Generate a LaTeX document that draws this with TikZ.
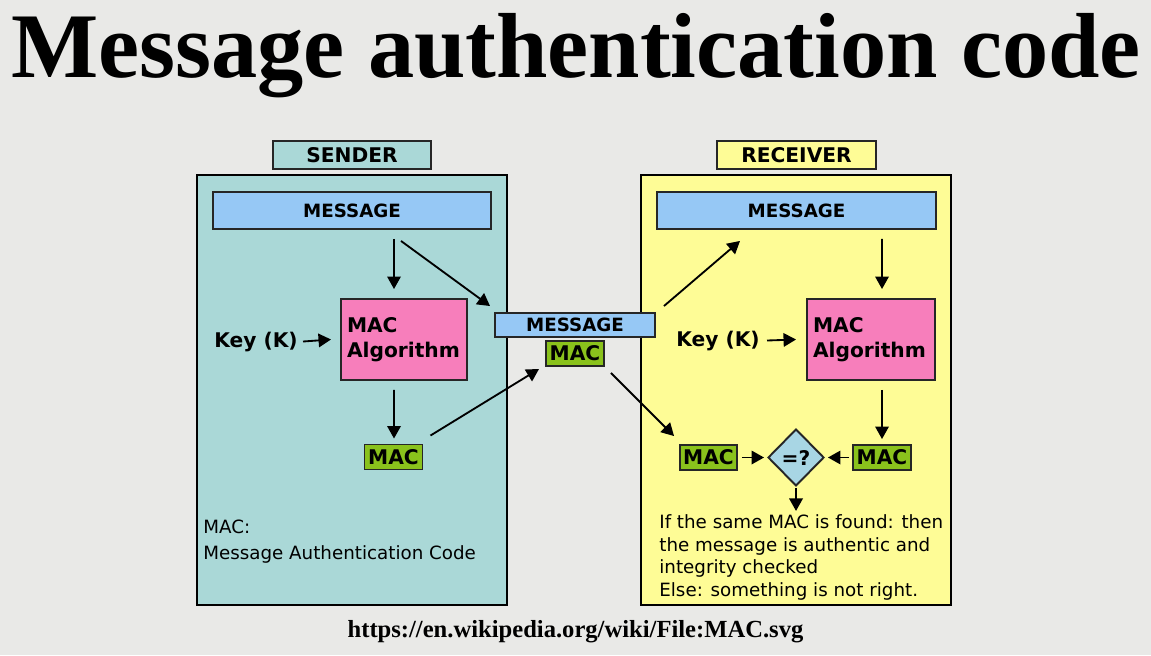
\documentclass[tikz,border=0pt]{standalone}
\usepackage{fontspec}
\setmainfont{Liberation Serif}
\newfontfamily\dejavu{DejaVu Sans}
\usetikzlibrary{arrows.meta,calc,shapes.geometric}
\definecolor{bgray}{RGB}{233,233,231}
\definecolor{sendteal}{RGB}{170,216,215}
\definecolor{recyellow}{RGB}{254,252,150}
\definecolor{msgblue}{RGB}{150,200,245}
\definecolor{algpink}{RGB}{247,126,187}
\definecolor{macgreen}{RGB}{138,194,28}
\definecolor{cmpblue}{RGB}{168,214,228}
\newcommand\pxu{0.02cm}
\tikzset{
  box/.style={draw=black!85, line width=1.1pt, inner sep=0pt,
    font=\dejavu\bfseries\fontsize{11.5}{14.5}\selectfont},
  msgbox/.style={box, fill=msgblue, font=\dejavu\bfseries\fontsize{10.4}{12}\selectfont},
  macbox/.style={box, fill=macgreen, minimum width=58*\pxu, minimum height=25*\pxu},
  algbox/.style={box, fill=algpink, minimum width=126*\pxu, minimum height=81*\pxu,
    text width=114*\pxu, inner xsep=6*\pxu, align=left},
  keytext/.style={inner sep=0pt, font=\dejavu\bfseries\fontsize{11.5}{14}\selectfont},
  arr/.style={-{Triangle[length=0.25cm,width=0.27cm]}, line width=1.05pt},
}
\begin{document}
\begin{tikzpicture}[x=0.02cm,y=-0.02cm]
\fill[bgray] (0,0) rectangle (1151,655);
\node[anchor=base, inner sep=0pt, font=\bfseries\fontsize{52.6}{60}\selectfont] (title) at (576,78) {Message authentication code};
\node[anchor=base, inner sep=0pt, font=\bfseries\fontsize{14}{16}\selectfont] (link) at (575.5,637) {https://en.wikipedia.org/wiki/File:MAC.svg};

% the two panels
\draw[fill=sendteal, line width=0.85pt] (197,175) rectangle (507,605);
\draw[fill=recyellow, line width=0.85pt] (641,175) rectangle (951,605);

% sender side
\node[box, fill=sendteal, minimum width=158*\pxu, minimum height=28*\pxu] (sender) at (352,155) {SENDER};
\node[msgbox, minimum width=278*\pxu, minimum height=37*\pxu] (smsg) at (352,210.5) {MESSAGE};
\node[algbox] (salg) at (404,339.5) {MAC\\Algorithm};
\node[keytext, anchor=base east] (skey) at (298,347) {Key (K)};
\node[macbox] (smac) at (393.5,457) {MAC};
\node[anchor=north west, inner sep=0pt, align=left, font=\dejavu\fontsize{10.4}{14.7}\selectfont] (snote) at (203,520) {MAC:\\Message Authentication Code};

% in transit
\node[msgbox, minimum width=160*\pxu, minimum height=24*\pxu] (mmsg) at (575,325) {MESSAGE};
\node[macbox] (mmac) at (575,353.5) {MAC};

% receiver side
\node[box, fill=recyellow, minimum width=159*\pxu, minimum height=28*\pxu] (receiver) at (796.5,155) {RECEIVER};
\node[msgbox, minimum width=279*\pxu, minimum height=37*\pxu] (rmsg) at (796.5,210.5) {MESSAGE};
\node[algbox, minimum width=128*\pxu, text width=116*\pxu] (ralg) at (871,339.5) {MAC\\Algorithm};
\node[keytext, anchor=base east] (rkey) at (760,346) {Key (K)};
\node[macbox] (rmacb) at (882,457.5) {MAC};
\node[macbox, minimum width=57*\pxu] (rmaca) at (708.5,457.5) {MAC};
\node[box, diamond, fill=cmpblue, minimum width=56*\pxu, minimum height=57*\pxu] (cmp) at (796,457.5) {=?};
\node[anchor=north west, inner sep=0pt, align=left, font=\dejavu\fontsize{10.4}{13}\selectfont] (rnote) at (659,514) {If the same MAC is found: then\\the message is authentic and\\integrity checked\\Else: something is not right.};

% arrows
\draw[arr] ($(smsg.south)+(42,9)$) -- ($(salg.north)+(-10,-9)$);
\draw[arr] ($(smsg.south)+(49,11)$) -- ($(mmsg.north west)+(-4,-6)$);
\draw[arr] ($(skey.east)+(5,0)$) -- ($(salg.west)+(-9,0)$);
\draw[arr] ($(salg.south)+(-10,9)$) -- ($(smac.north)+(0.5,-5)$);
\draw[arr] ($(smac.north east)+(7,-8)$) -- ($(mmac.south west)+(-6,2)$);
\draw[arr] ($(mmsg.north east)+(8,-6)$) -- ($(rmsg.south)+(-56.5,11)$);
\draw[arr] ($(rmsg.south)+(85.5,9)$) -- ($(ralg.north)+(11,-9)$);
\draw[arr] ($(rkey.east)+(7,0)$) -- ($(ralg.west)+(-10,0)$);
\draw[arr] ($(ralg.south)+(11,9)$) -- ($(rmacb.north)+(0,-5)$);
\draw[arr] ($(mmac.south east)+(6,6)$) -- ($(rmaca.north west)+(-5,-8)$);
\draw[arr] ($(rmaca.east)+(4,0)$) -- ($(cmp.west)+(-3,0)$);
\draw[arr] ($(rmacb.west)+(-3,0)$) -- ($(cmp.east)+(3,0)$);
\draw[arr] ($(cmp.south)+(0,1)$) -- ($(cmp.south)+(0,24)$);
\end{tikzpicture}
\end{document}
